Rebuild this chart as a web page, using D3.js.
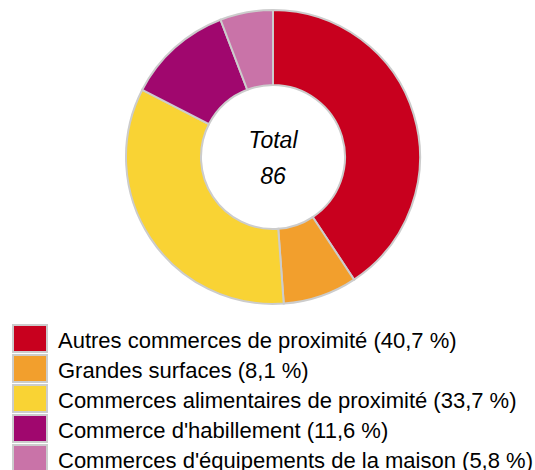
<!DOCTYPE html>
<html><head><meta charset="utf-8">
<script src="https://cdn.jsdelivr.net/npm/d3@7"></script>
<style>body{margin:0;background:#fff}svg{display:block}</style>
</head><body>
<svg id="c" width="535" height="470"></svg>
<script>
const categories = ["Autres commerces de proximité","Grandes surfaces","Commerces alimentaires de proximité","Commerce d'habillement","Commerces d'équipements de la maison"];
const values = [35, 7, 29, 10, 5];
const percents = ["40,7","8,1","33,7","11,6","5,8"];
const colors = ["#C8001E","#F29F2D","#F9D334","#A0076E","#C973A8"];
const totalLabel = "Total";
const total = d3.sum(values);

const FONT = "'Liberation Sans', Arial, sans-serif";
const svg = d3.select("#c");
const cx = 273, cy = 157, rOut = 147, rIn = 72;
const pie = d3.pie().sort(null).value(d => d);
const arc = d3.arc().innerRadius(rIn).outerRadius(rOut);
const g = svg.append("g").attr("transform", `translate(${cx},${cy})`);
g.selectAll("path").data(pie(values)).join("path")
  .attr("d", arc).attr("fill", (d,i) => colors[i])
  .attr("stroke", "#cccccc").attr("stroke-width", 2);

g.append("text").attr("y", -9).attr("text-anchor","middle")
  .style("font-family", FONT).attr("font-style","italic")
  .attr("font-size", 23).text(totalLabel);
g.append("text").attr("y", 27).attr("text-anchor","middle")
  .style("font-family", FONT).attr("font-style","italic")
  .attr("font-size", 23).text(total);

const y = d3.scaleBand().domain(d3.range(categories.length)).range([324, 474]).paddingInner(0);
const lg = svg.append("g");
const rows = lg.selectAll("g").data(categories).join("g")
  .attr("transform", (d,i) => `translate(0,${y(i)})`);
rows.append("rect").attr("x", 13).attr("y", 1).attr("width", 34).attr("height", 27)
  .attr("fill", (d,i) => colors[i]).attr("stroke", "#cccccc").attr("stroke-width", 2);
rows.append("text").attr("x", 58).attr("y", 23.5)
  .style("font-family", FONT).attr("font-size", 22)
  .attr("fill","#000").text((d,i) => `${d} (${percents[i]} %)`);
</script>
</body></html>
